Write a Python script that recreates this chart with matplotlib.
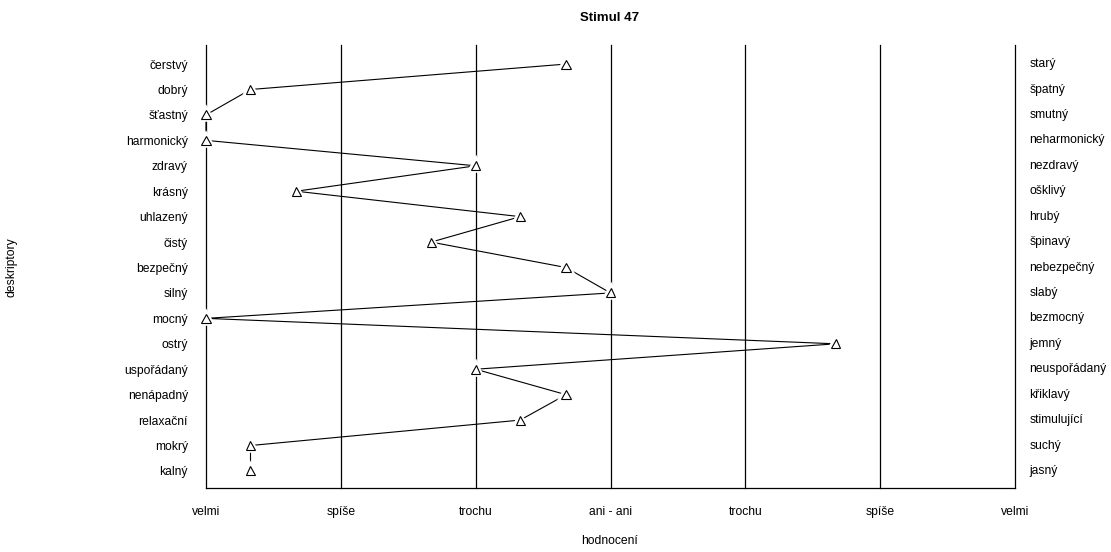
import numpy as np
import matplotlib.pyplot as plt
import matplotlib.patheffects as pe

plt.rcParams['font.family'] = ['Liberation Sans', 'DejaVu Sans']

levy = ["čerstvý", "dobrý", "šťastný", "harmonický", "zdravý", "krásný", "uhlazený",
        "čistý", "bezpečný", "silný", "mocný", "ostrý", "uspořádaný", "nenápadný",
        "relaxační", "mokrý", "kalný"]
pravy = ["starý", "špatný", "smutný", "neharmonický", "nezdravý", "ošklivý", "hrubý",
         "špinavý", "nebezpečný", "slabý", "bezmocný", "jemný", "neuspořádaný", "křiklavý",
         "stimulující", "suchý", "jasný"]
hodnoty = [3.67, 1.33, 1.0, 1.0, 3.0, 1.67, 3.33, 2.67, 3.67, 4.0, 1.0, 5.67, 3.0,
           3.67, 3.33, 1.33, 1.33]
stupnice = ["velmi", "spíše", "trochu", "ani - ani", "trochu", "spíše", "velmi"]

n = len(levy)
y = np.arange(1, n + 1)
xs = np.arange(1, len(stupnice) + 1)

fig = plt.figure(figsize=(11.11, 5.52), dpi=100)
ax = fig.add_axes([206 / 1111, 1 - 488 / 552, 809 / 1111, 443 / 552])

for x in xs:
    ax.axvline(x, color="black", linewidth=0.9, zorder=1, clip_on=False)
ax.plot(hodnoty, y, color="black", linewidth=0.8, zorder=2, clip_on=False)
ax.plot(hodnoty, y, linestyle="none", marker="^", markersize=6.5,
        markerfacecolor="white", markeredgecolor="black", markeredgewidth=0.8,
        zorder=3, clip_on=False,
        path_effects=[pe.Stroke(linewidth=4, foreground="white"), pe.Normal()])

ax.set_xlim(1, 7)
ax.set_ylim(n + 0.67, 0.25)
for s in ["top", "right", "left"]:
    ax.spines[s].set_visible(False)
ax.spines["bottom"].set_linewidth(0.9)

ax.set_yticks(y)
ax.set_yticklabels(levy, fontsize=8.7)
ax.tick_params(axis="y", length=0, pad=13)
for yi, lab in zip(y, pravy):
    ax.text(1.0175, yi, lab, transform=ax.get_yaxis_transform(), fontsize=8.7,
            va="center", ha="left")

ax.set_xticks(xs)
ax.set_xticklabels(stupnice, fontsize=8.7)
ax.tick_params(axis="x", length=0, pad=13)

fig.text(610 / 1111, 1 - 541 / 552, "hodnocení", fontsize=8.7, ha="center", va="center")
fig.text(12 / 1111, 1 - 267 / 552, "deskriptory", rotation=90, fontsize=8.7,
         va="center", ha="center")
fig.text(610 / 1111, 1 - 18 / 552, "Stimul 47", fontsize=9.5, fontweight="bold",
         ha="center", va="center")

fig.savefig("out.png", dpi=100)
